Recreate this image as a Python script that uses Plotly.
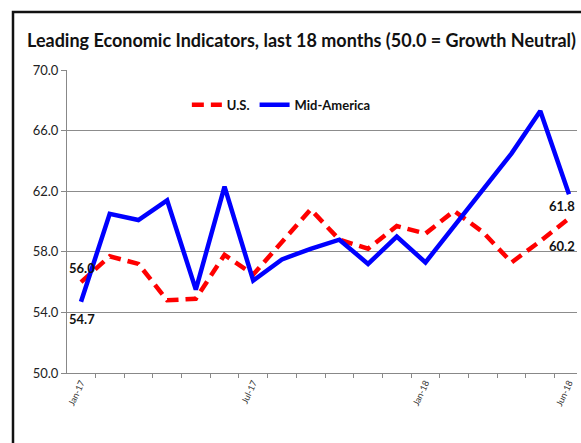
import plotly.graph_objects as go

months = ["Jan-17", "Feb-17", "Mar-17", "Apr-17", "May-17", "Jun-17",
          "Jul-17", "Aug-17", "Sep-17", "Oct-17", "Nov-17", "Dec-17",
          "Jan-18", "Feb-18", "Mar-18", "Apr-18", "May-18", "Jun-18"]
shown_labels = ["Jan-17", "Jul-17", "Jan-18", "Jun-18"]

us = [56.0, 57.7, 57.2, 54.8, 54.9, 57.8, 56.5, 58.7, 60.8, 58.8,
      58.2, 59.7, 59.2, 60.7, 59.3, 57.3, 58.7, 60.2]
mid_america = [54.7, 60.5, 60.1, 61.4, 55.5, 62.3, 56.1, 57.5, 58.2, 58.8,
               57.2, 59.0, 57.3, 59.7, 62.1, 64.5, 67.3, 61.8]

y_ticks = [50.0, 54.0, 58.0, 62.0, 66.0, 70.0]

FONT = "Lato, Calibri, Carlito, 'Open Sans', sans-serif"

fig = go.Figure()
fig.add_trace(go.Scatter(
    x=months, y=us, mode="lines", name="U.S.",
    line=dict(color="#FF0000", width=4.5, dash="12px,7px"),
))
fig.add_trace(go.Scatter(
    x=months, y=mid_america, mode="lines", name="Mid-America",
    line=dict(color="#0000FF", width=4.5),
))

lab_font = dict(family=FONT, size=13, color="#111111", weight="bold")
annotations = [
    dict(x=months[0], y=us[0], text=f"{us[0]:.1f}", showarrow=False,
         yshift=14, xshift=1, font=lab_font),
    dict(x=months[0], y=mid_america[0], text=f"{mid_america[0]:.1f}", showarrow=False,
         yshift=-17, xshift=1, font=lab_font),
    dict(x=months[-1], y=mid_america[-1], text=f"{mid_america[-1]:.1f}", showarrow=False,
         yshift=-12, xshift=-7, font=lab_font),
    dict(x=months[-1], y=us[-1], text=f"{us[-1]:.1f}", showarrow=False,
         yshift=-28, xshift=-7, font=lab_font),
]

fig.update_layout(
    width=581, height=443,
    margin=dict(l=67, r=4, t=70, b=70),
    paper_bgcolor="white", plot_bgcolor="white",
    font=dict(family=FONT, color="#222222"),
    title=dict(
        text="Leading Economic Indicators, last 18 months (50.0 = Growth Neutral)",
        x=27 / 581, xanchor="left", xref="container",
        y=1 - 41 / 443, yanchor="middle", yref="container",
        font=dict(family=FONT, size=18, color="#111111", weight="bold"),
    ),
    showlegend=True,
    legend=dict(
        orientation="h", x=0.235, xanchor="left", y=0.885, yanchor="middle",
        bgcolor="rgba(0,0,0,0)", font=dict(family=FONT, size=13, color="#111111", weight="bold"),
        itemwidth=30, traceorder="normal",
    ),
    annotations=annotations,
    shapes=[
        dict(type="rect", xref="paper", yref="paper",
             x0=(13 - 67) / 510, x1=(600 - 67) / 510,
             y0=(373 - 460) / 303, y1=(373 - 12) / 303,
             line=dict(color="#111111", width=2.5), fillcolor="rgba(0,0,0,0)",
             layer="below"),
    ],
)

fig.update_xaxes(
    type="category",
    tickmode="array", tickvals=months,
    ticktext=[m if m in shown_labels else "" for m in months],
    tickson="boundaries", ticks="outside", ticklen=4, tickcolor="#888888",
    tickangle=-65, tickfont=dict(family=FONT, size=9, color="#333333"),
    showline=True, linecolor="#888888", linewidth=1,
    showgrid=False, zeroline=False,
)
fig.update_yaxes(
    range=[50, 70], tickmode="array", tickvals=y_ticks,
    ticktext=[f"{v:.1f}" for v in y_ticks],
    ticks="outside", ticklen=5, tickcolor="#888888",
    tickfont=dict(family=FONT, size=13, color="#222222"),
    showline=True, linecolor="#888888", linewidth=1,
    showgrid=True, gridcolor="#8c8c8c", gridwidth=1,
    zeroline=False,
)

fig.write_html("out.html", config={"displayModeBar": False},
               post_script="document.body.style.margin='0';")
